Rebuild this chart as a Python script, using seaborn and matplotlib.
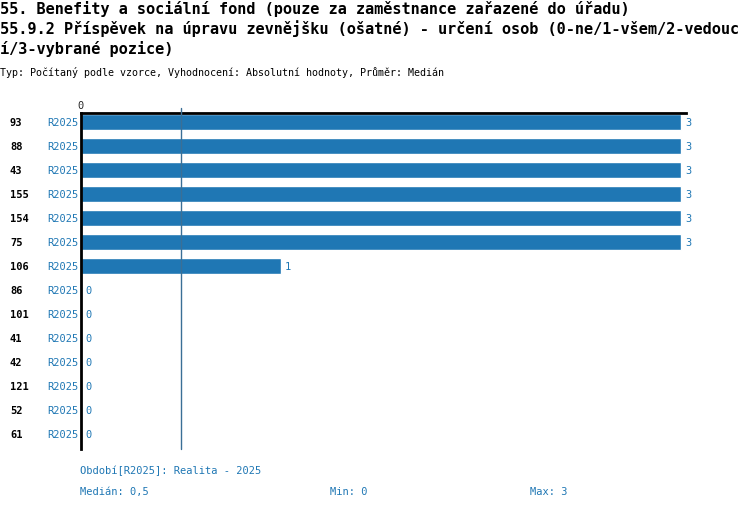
import pandas as pd
import matplotlib
matplotlib.use("Agg")
import matplotlib.pyplot as plt
import matplotlib.transforms as mtransforms
import seaborn as sns

rows = ["93", "88", "43", "155", "154", "75", "106", "86", "101", "41", "42", "121", "52", "61"]
values = [3, 3, 3, 3, 3, 3, 1, 0, 0, 0, 0, 0, 0, 0]
period = "R2025"
median = 0.5
vmin = 0
vmax = 3

title_lines = [
    "55. Benefity a sociální fond (pouze za zaměstnance zařazené do úřadu)",
    "55.9.2 Příspěvek na úpravu zevnějšku (ošatné) - určení osob (0-ne/1-všem/2-vedouc",
    "í/3-vybrané pozice)",
]
subtitle = "Typ: Počítaný podle vzorce, Vyhodnocení: Absolutní hodnoty, Průměr: Medián"

blue = "#1f77b4"
mono = ["DejaVu Sans Mono"]

sns.set_style("white")
plt.rcParams["font.family"] = mono

df = pd.DataFrame({"row": rows, "value": values})

W, H = 750, 510
fig = plt.figure(figsize=(7.5, 5.1), dpi=100)
ax = fig.add_axes([81 / W, 1 - 450 / H, (686 - 81) / W, (450 - 114) / H])

sns.barplot(data=df, x="value", y="row", order=rows, orient="h",
            color=blue, saturation=1, width=16 / 24, ax=ax)

# 200 px per unit, first row centred 9 px below the top line
ax.set_xlim(0, 605 / 200)
ax.set_ylim(13 + 15 / 24, -9 / 24)
ax.set_xlabel("")
ax.set_ylabel("")
ax.set_yticks([])
ax.xaxis.tick_top()
ax.set_xticks([0])
ax.set_xticklabels(["0"])
ax.tick_params(axis="x", length=0, pad=2, labelsize=7.5)
for side in ["right", "bottom"]:
    ax.spines[side].set_visible(False)
for side in ["left", "top"]:
    ax.spines[side].set_color("black")
    ax.spines[side].set_linewidth(2)

ax.axvline(median, ymin=0, ymax=1 + 5 / 336, color="#3a6f96", lw=1,
           zorder=5, clip_on=False)

trans = mtransforms.blended_transform_factory(fig.transFigure, ax.transData)
for i, (r, v) in enumerate(zip(rows, values)):
    ax.text(10 / W, i, r, transform=trans, ha="left", va="center",
            fontsize=7.5, fontweight="bold", color="black")
    ax.text(78 / W, i, period, transform=trans, ha="right", va="center",
            fontsize=7.5, color=blue)
    ax.annotate(str(v), (v, i), xytext=(3, 0), textcoords="offset points",
                ha="left", va="center", fontsize=7.5, color=blue)

for k, line in enumerate(title_lines):
    fig.text(0, 1 - (9 + 20 * k) / H, line, ha="left", va="center",
             fontsize=11, fontweight="bold", color="black")
fig.text(0, 1 - 73 / H, subtitle, ha="left", va="center", fontsize=7.2, color="black")

fig.text(80 / W, 1 - 471 / H, f"Období[{period}]: Realita - 2025",
         ha="left", va="center", fontsize=7.5, color=blue)
fig.text(80 / W, 1 - 492 / H, "Medián: " + str(median).replace(".", ","),
         ha="left", va="center", fontsize=7.5, color=blue)
fig.text(330 / W, 1 - 492 / H, f"Min: {vmin}", ha="left", va="center",
         fontsize=7.5, color=blue)
fig.text(530 / W, 1 - 492 / H, f"Max: {vmax}", ha="left", va="center",
         fontsize=7.5, color=blue)

fig.savefig("out.png", dpi=100)
